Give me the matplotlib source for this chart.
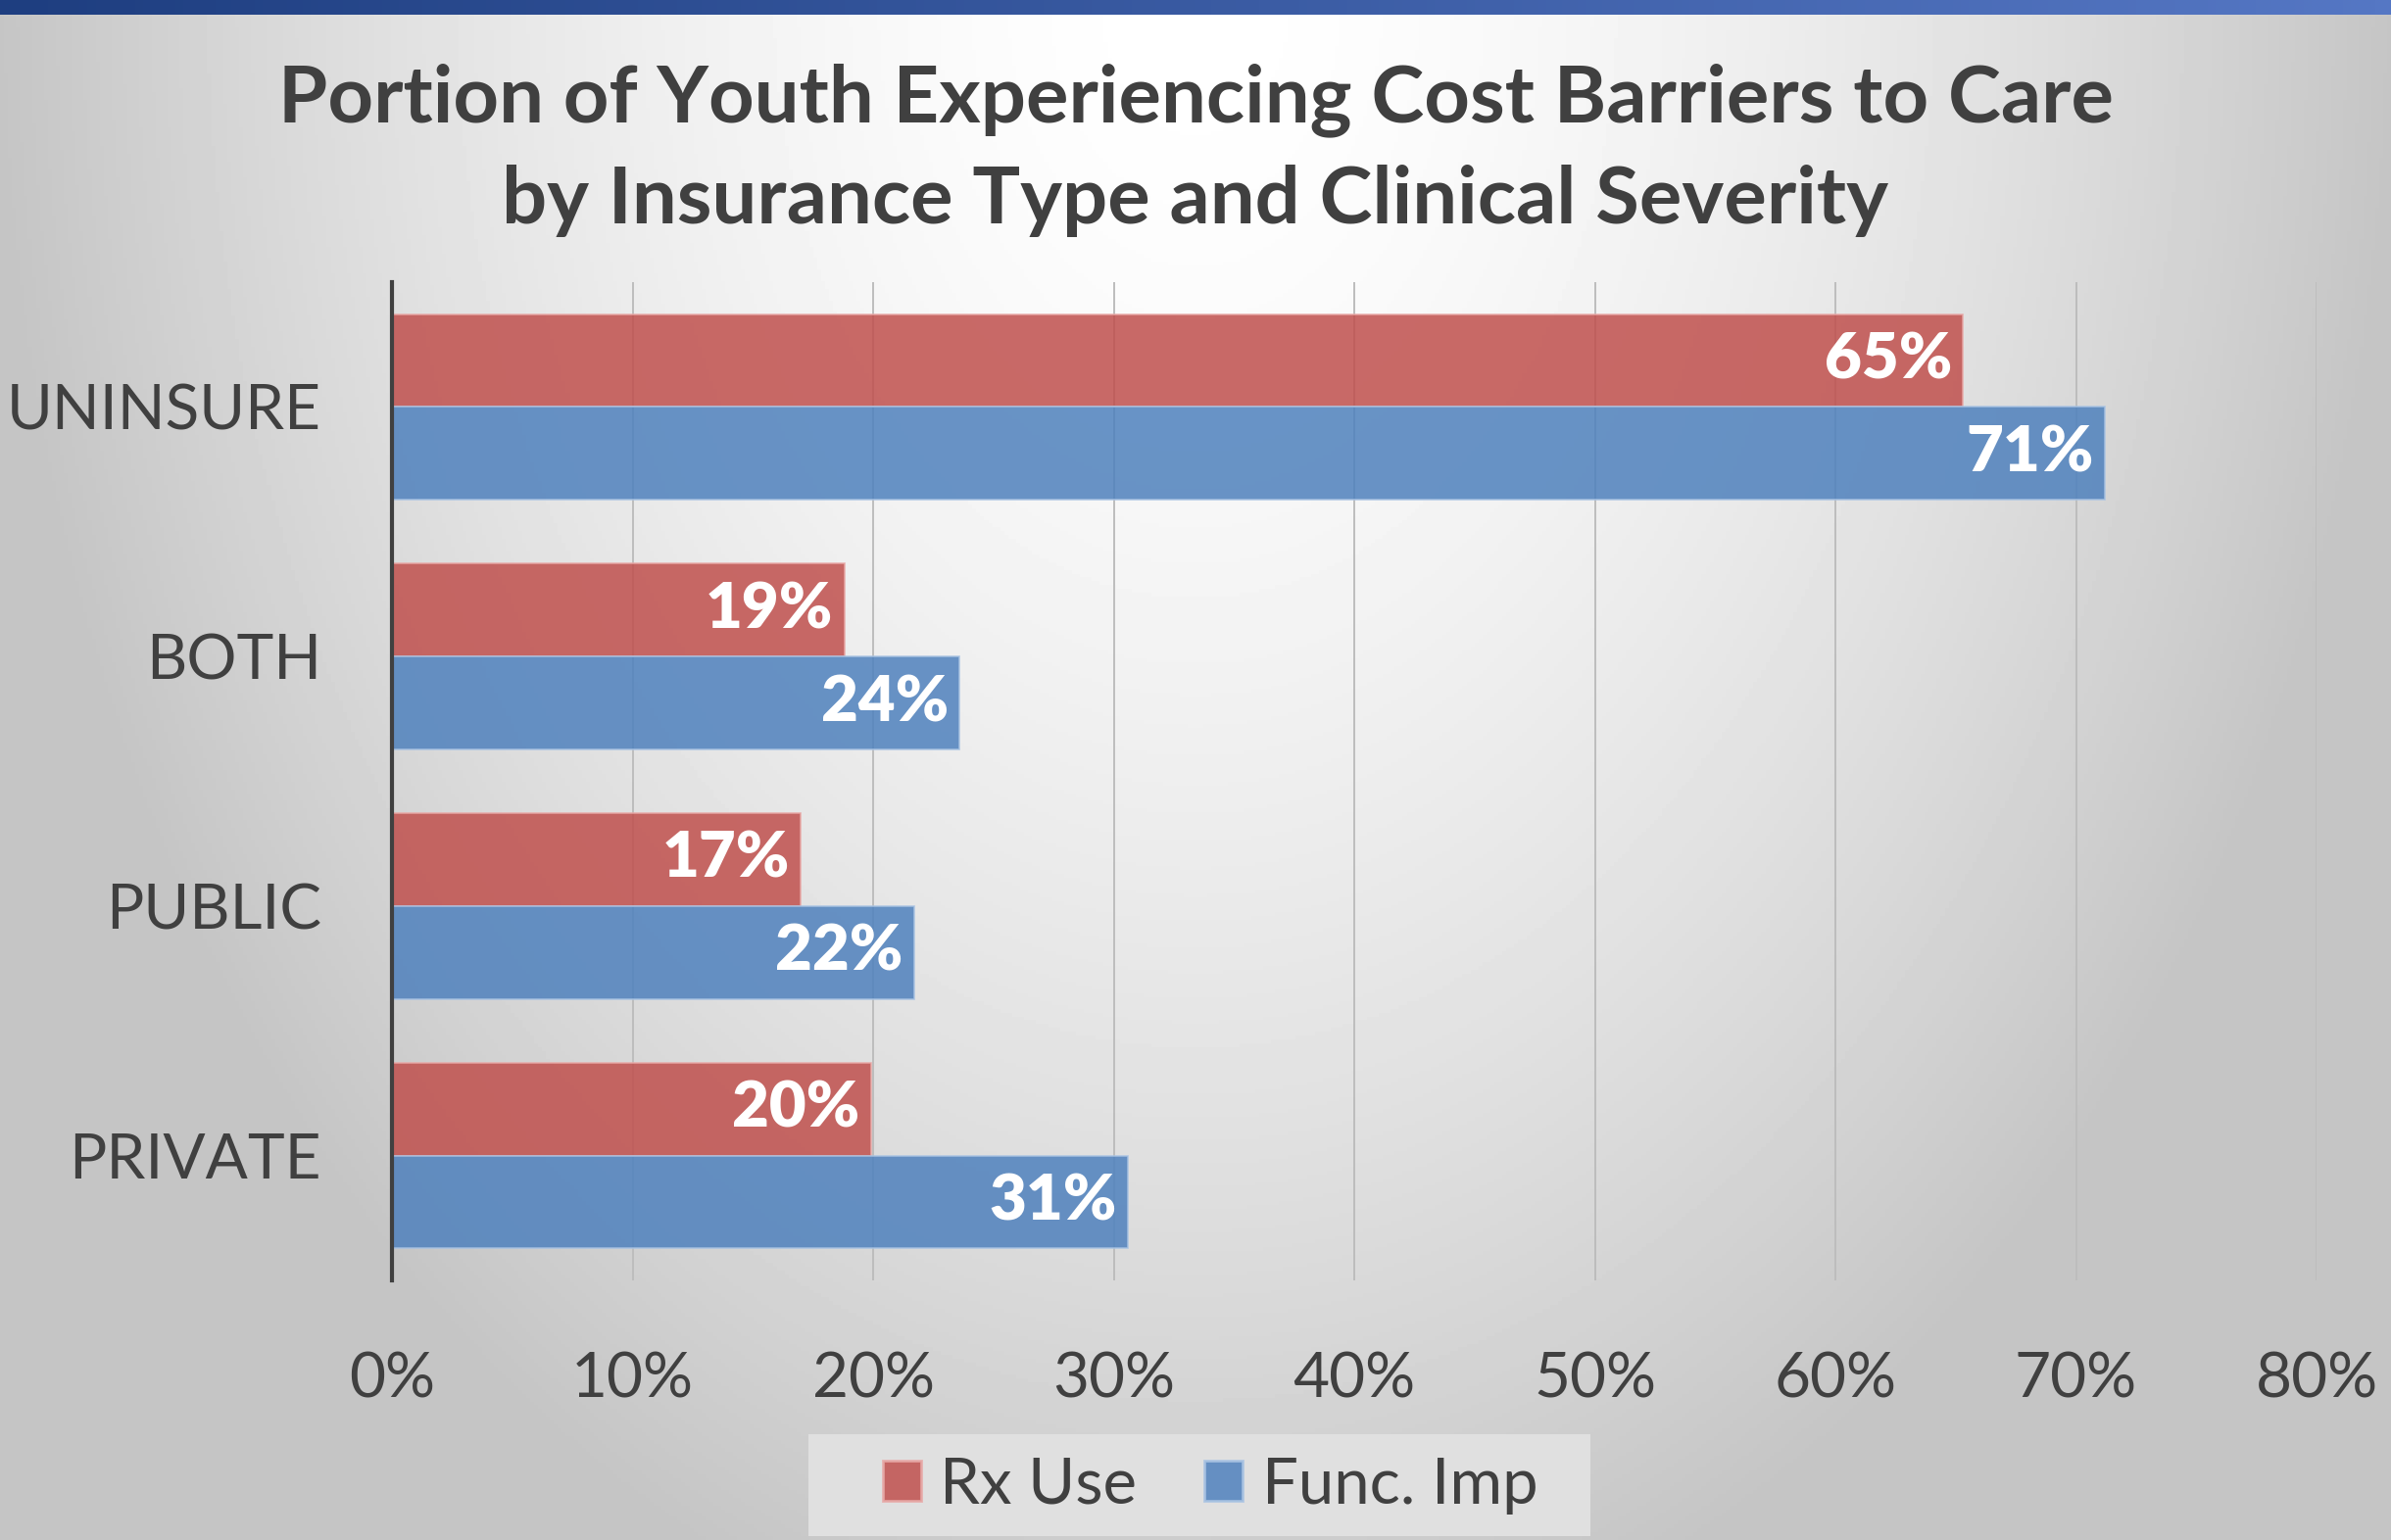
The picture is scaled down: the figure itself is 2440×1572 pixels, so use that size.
import numpy as np
import matplotlib.pyplot as plt
from matplotlib.colors import LinearSegmentedColormap
from matplotlib.patches import Patch, Rectangle

# Data
categories = ['PRIVATE', 'PUBLIC', 'BOTH', 'UNINSURE']
rx_use = [19.9, 17.0, 18.8, 65.3]
func_imp = [30.6, 21.7, 23.6, 71.2]
series_names = ['Rx Use', 'Func. Imp']
x_ticks = [0, 10, 20, 30, 40, 50, 60, 70, 80]

plt.rcParams['font.family'] = ['Lato', 'DejaVu Sans']
text_color = '#404040'
red = '#C0504D'
blue = '#4F81BD'

fig = plt.figure(figsize=(12.2, 7.86), dpi=200)

# background: light radial gradient, white at top centre
bg = fig.add_axes([0, 0, 1, 1], zorder=-10)
yy, xx = np.mgrid[0:1:400j, 0:1:600j]
d = np.sqrt(((xx - 0.5) / 0.5) ** 2 + (yy / 1.1) ** 2)
v = 255 - 58 * np.clip(d, 0, 1) ** 1.6
bg.imshow(v, cmap='gray', vmin=0, vmax=255, aspect='auto', extent=[0, 1, 0, 1], origin='upper')
bg.axis('off')

# blue band at the top
band = fig.add_axes([0, 1 - 15 / 1572, 1, 15 / 1572], zorder=-5)
band_cmap = LinearSegmentedColormap.from_list('band', ['#1e3e80', '#5577c4'])
band.imshow(np.linspace(0, 1, 300)[None, :], cmap=band_cmap, aspect='auto', extent=[0, 1, 0, 1])
band.axis('off')

# main chart
ax = fig.add_axes([400 / 2440, 1 - 1307 / 1572, 1964 / 2440, 1019 / 1572])
ax.set_facecolor('none')

y = np.arange(len(categories))
h = 0.372
bars_rx = ax.barh(y + h / 2, rx_use, height=h, color=red, alpha=0.85,
                  edgecolor='#e8a8a6', linewidth=0.6, zorder=3)
bars_fi = ax.barh(y - h / 2, func_imp, height=h, color=blue, alpha=0.85,
                  edgecolor='#a9c3e3', linewidth=0.6, zorder=3)

for bars, vals in [(bars_rx, rx_use), (bars_fi, func_imp)]:
    for b, val in zip(bars, vals):
        ax.text(b.get_width() - 0.45, b.get_y() + b.get_height() / 2,
                f'{round(val):d}%', ha='right', va='center', color='white',
                fontsize=23.5, fontweight='heavy', zorder=4)

ax.set_xlim(0, 80)
ax.set_ylim(-0.5, 3.5)
ax.set_xticks(x_ticks)
ax.set_xticklabels([f'{t}%' for t in x_ticks])
ax.set_yticks(y)
ax.set_yticklabels(categories)
ax.tick_params(axis='x', length=0, pad=26, labelsize=23, labelcolor=text_color)
ax.tick_params(axis='y', length=0, pad=26, labelsize=23, labelcolor=text_color)
ax.grid(axis='x', color='#bdbdbd', linewidth=0.7, zorder=1)
ax.set_axisbelow(True)
for s in ['top', 'right', 'bottom']:
    ax.spines[s].set_visible(False)
ax.spines['left'].set_color(text_color)
ax.spines['left'].set_linewidth(1.5)
ax.spines['left'].set_zorder(5)

# title
fig.text(0.5, 1 - 153 / 1572,
         'Portion of Youth Experiencing Cost Barriers to Care\nby Insurance Type and Clinical Severity',
         ha='center', va='center', fontsize=29.3, fontweight='bold', color=text_color,
         linespacing=1.47)

# legend with its own box
fig.patches.append(Rectangle((825 / 2440, 4 / 1572), 798 / 2440, 104 / 1572,
                             transform=fig.transFigure, facecolor='#e0e0e0',
                             edgecolor='none', zorder=-1))
handles = [Patch(facecolor=red, alpha=0.85, edgecolor='#e8a8a6'),
           Patch(facecolor=blue, alpha=0.85, edgecolor='#a9c3e3')]
leg = fig.legend(handles, series_names, loc='center', bbox_to_anchor=(1235 / 2440, 56 / 1572),
                 ncol=2, fontsize=23.5, frameon=False, handlelength=0.6,
                 handleheight=0.6, handletextpad=0.3, columnspacing=1.05,
                 borderpad=0, borderaxespad=0)
for t in leg.get_texts():
    t.set_color(text_color)

fig.savefig('out.png', dpi=200)
